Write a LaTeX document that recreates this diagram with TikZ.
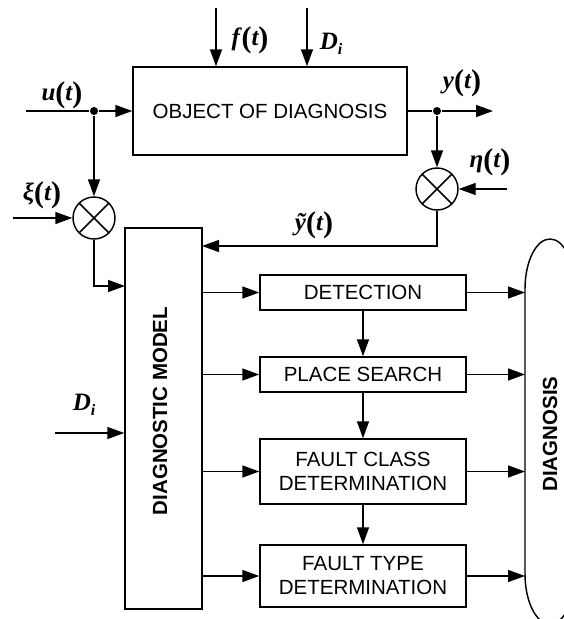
\documentclass[tikz,border=0pt]{standalone}
\usepackage{fontspec}
\setmainfont{Liberation Sans}
\newfontfamily\lblfont{Liberation Serif}
\usetikzlibrary{arrows.meta}
\newcommand{\LV}[1]{{\lblfont\bfseries\itshape\fontsize{25}{25}\selectfont #1}}
\newcommand{\PL}{{\lblfont\bfseries\fontsize{30}{30}\selectfont\raisebox{-2pt}{(}}}
\newcommand{\PR}{{\lblfont\bfseries\fontsize{30}{30}\selectfont\raisebox{-2pt}{)}}}
\newcommand{\FN}[2]{\LV{#1}\PL\LV{#2}\PR}
\newcommand{\DI}{\LV{D}{\lblfont\bfseries\itshape\fontsize{16}{16}\selectfont\raisebox{-5pt}{i}}}
\begin{document}
\begin{tikzpicture}[x=1pt,y=-1pt,line width=1.45pt,
  >={Triangle[length=17pt,width=12pt]},
  rect/.style={draw,inner sep=0pt,align=center,font=\fontsize{20.5}{24}\selectfont},
  flowbox/.style={rect,minimum width=206pt},
  vlabel/.style={inner sep=0pt,rotate=90,font=\bfseries\fontsize{20.5}{24}\selectfont},
  lbl/.style={inner sep=0pt},
  junction/.style={circle,fill=black,inner sep=0pt,minimum size=8pt},
  mixer/.style={draw,circle,inner sep=0pt,minimum size=42pt}]
\useasboundingbox (0,0) rectangle (564,619);

% blocks
\node[rect,minimum width=274pt,minimum height=88pt] (obj) at (270,111) {OBJECT OF DIAGNOSIS};
\node[rect,minimum width=77pt,minimum height=381pt] (dm) at (163.5,418.5) {};
\node[vlabel] (dmtext) at (160,411) {DIAGNOSTIC MODEL};
\node[flowbox,minimum height=35pt] (det) at (363,292.5) {DETECTION};
\node[flowbox,minimum height=35pt] (ps) at (363,374.5) {PLACE SEARCH};
\node[flowbox,minimum height=65pt] (fc) at (363,471.5) {FAULT CLASS\\DETERMINATION};
\node[flowbox,minimum height=62pt] (ft) at (363,576) {FAULT TYPE\\DETERMINATION};

% diagnosis outline
\draw (525,289) -- (525,574) arc[start angle=180,end angle=360,x radius=25pt,y radius=50pt]
  -- (575,289) arc[start angle=0,end angle=180,x radius=25pt,y radius=50pt] -- cycle;
\node[vlabel] (diag) at (550,434) {DIAGNOSIS};
\coordinate (dgl) at (525,431);

% junctions and mixers
\node[junction] (ju) at (94,111) {};
\node[junction] (jy) at (437,111) {};
\node[mixer] (s1) at (94,218) {};
\node[mixer] (s2) at (437,189) {};
\draw (s1.north east) -- (s1.south west) (s1.north west) -- (s1.south east);
\draw (s2.north east) -- (s2.south west) (s2.north west) -- (s2.south east);

% free ends
\coordinate (uin) at (26,111);
\coordinate (xin) at (13,218);
\coordinate (fin) at (216,8);
\coordinate (dtop) at (307,8);
\coordinate (yout) at (493,111);
\coordinate (etain) at (507,189);
\coordinate (din) at (55,433);
\coordinate (dmin1) at (125,286);
\coordinate (dmin2) at (202,246);

% connectors
\draw (uin) -- (ju);
\draw[->] (ju) -- (obj.west |- ju);
\draw[->] (ju) -- (s1);
\draw[->] (xin) -- (s1);
\draw[->] (s1) |- (dmin1);
\draw[->] (fin) -- (fin |- obj.north);
\draw[->] (dtop) -- (dtop |- obj.north);
\draw (obj.east |- jy) -- (jy);
\draw[->] (jy) -- (yout);
\draw[->] (jy) -- (s2);
\draw[->] (etain) -- (s2);
\draw[->] (s2) |- (dmin2);
\draw[->] (din) -- (din -| dm.west);

\foreach \b in {det,ps,fc,ft}{
  \draw[->] (\b.west -| dm.east) -- (\b.west);
  \draw[->] (\b.east) -- (\b.east -| dgl);
}
\draw[->] (det) -- (ps);
\draw[->] (ps) -- (fc);
\draw[->] (fc) -- (ft);

% labels
\node[lbl] (lu) at (62,95) {\FN{u}{t}};
\node[lbl] (lxi) at (42,195) {\FN{ξ}{t}};
\node[lbl] (lf) at (250,40) {\LV{f}\,\PL\LV{t}\PR};
\node[lbl] (ld1) at (331,44) {\DI};
\node[lbl] (ly) at (462,83) {\FN{y}{t}};
\node[lbl] (leta) at (490,162) {\FN{η}{t}};
\node[lbl] (lyt) at (314,225) {\FN{ỹ}{t}};
\node[lbl] (ld2) at (84,405) {\DI};
\end{tikzpicture}
\end{document}
